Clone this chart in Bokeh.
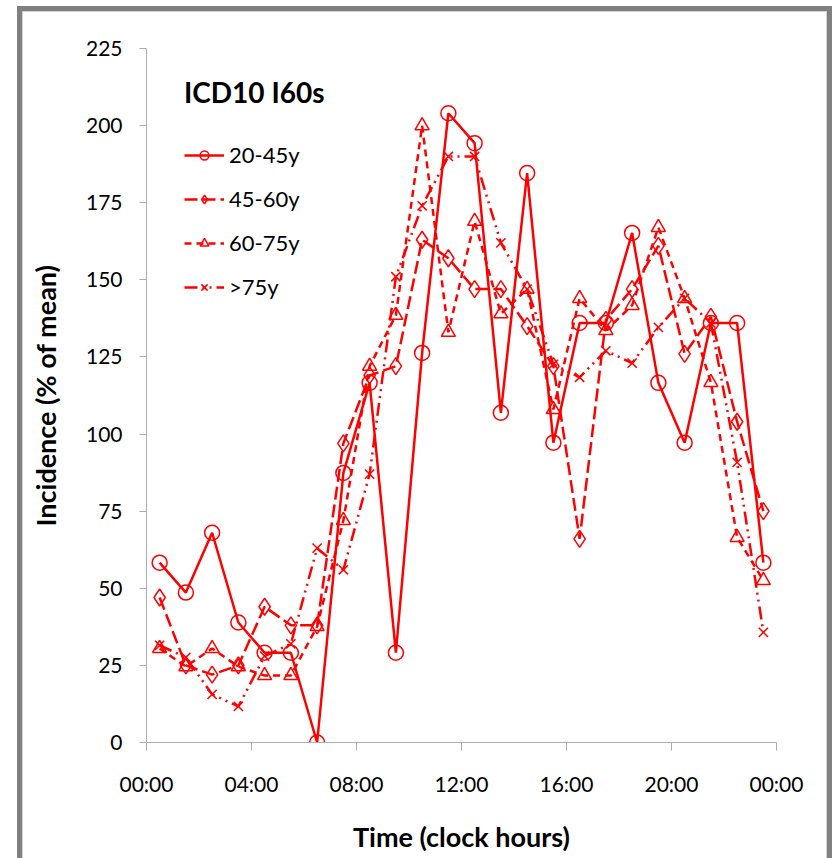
from bokeh.plotting import figure
from bokeh.models import FixedTicker, Legend, LegendItem
from bokeh.embed import file_html
from bokeh.resources import INLINE

# Hour-of-day midpoints (clock hours)
hours = [0.5, 1.5, 2.5, 3.5, 4.5, 5.5, 6.5, 7.5, 8.5, 9.5, 10.5, 11.5,
         12.5, 13.5, 14.5, 15.5, 16.5, 17.5, 18.5, 19.5, 20.5, 21.5, 22.5, 23.5]

# Incidence as % of the daily mean, per age group
age_20_45 = [58.3, 48.6, 68.0, 38.9, 29.1, 29.1, 0.0, 87.4, 116.6, 29.1, 126.3, 204.0,
             194.3, 106.9, 184.6, 97.2, 136.0, 136.0, 165.2, 116.6, 97.2, 136.0, 136.0, 58.3]
age_45_60 = [47.0, 25.0, 22.0, 25.0, 44.0, 38.0, 38.0, 97.0, 119.0, 122.0, 163.0, 157.0,
             147.0, 147.0, 135.0, 122.0, 66.0, 137.0, 147.0, 161.0, 126.0, 138.0, 104.0, 75.0]
age_60_75 = [30.5, 24.6, 30.5, 24.6, 21.7, 21.7, 37.6, 72.0, 122.0, 138.5, 200.0, 133.0,
             169.0, 139.0, 147.0, 108.0, 144.0, 133.6, 141.7, 167.0, 144.0, 116.7, 66.5, 52.5]
age_75_plus = [31.5, 27.6, 15.6, 11.7, 28.0, 32.0, 63.0, 56.0, 87.0, 151.0, 174.0, 190.0,
               190.0, 162.0, 147.0, 122.6, 118.4, 127.0, 123.0, 134.6, 144.0, 136.0, 90.8, 35.7]

series_names = ["20-45y", "45-60y", "60-75y", ">75y"]
x_ticks = [0, 4, 8, 12, 16, 20, 24]
x_tick_labels = ["00:00", "04:00", "08:00", "12:00", "16:00", "20:00", "00:00"]
y_ticks = [0, 25, 50, 75, 100, 125, 150, 175, 200, 225]

RED = "#FF0000"
FONT = "Lato"
AXIS_GREY = "#ADADAD"
FRAME_GREY = "#808080"
FRAME_EDGE = "#D4D4D4"

p = figure(width=832, height=858, x_range=(0, 24), y_range=(0, 225),
           output_backend="svg", toolbar_location=None,
           min_border_left=146, min_border_right=56, min_border_top=48, min_border_bottom=116)

# grey frame painted behind a transparent canvas border (inset shadows, top ones first)
p.styles = {
    "background-color": "white",
    "box-shadow": ", ".join([
        "inset 17px 0 0 0 white",
        "inset 0 6px 0 0 white",
        f"inset 22px 0 0 0 {FRAME_GREY}",
        f"inset 0 11px 0 0 {FRAME_GREY}",
        f"inset -5px 0 0 0 {FRAME_GREY}",
        f"inset 23px 0 0 0 {FRAME_EDGE}",
        f"inset 0 12px 0 0 {FRAME_EDGE}",
        f"inset -6px 0 0 0 {FRAME_EDGE}",
    ]),
}
p.border_fill_color = None
p.background_fill_color = "white"
p.outline_line_color = None
p.xgrid.visible = False
p.ygrid.visible = False

# axes
p.xaxis.ticker = FixedTicker(ticks=x_ticks)
p.xaxis.major_label_overrides = {t: lab for t, lab in zip(x_ticks, x_tick_labels)}
p.yaxis.ticker = FixedTicker(ticks=y_ticks)
for ax in (p.xaxis, p.yaxis):
    ax.axis_line_color = AXIS_GREY
    ax.major_tick_line_color = AXIS_GREY
    ax.minor_tick_line_color = None
    ax.major_tick_in = 0
    ax.major_label_text_font = FONT
    ax.major_label_text_font_size = "21px"
    ax.major_label_text_color = "black"
    ax.axis_label_text_font = FONT
    ax.axis_label_text_font_style = "bold"
    ax.axis_label_text_font_size = "27px"
    ax.axis_label_text_color = "black"
p.yaxis.major_tick_out = 7
p.xaxis.major_tick_out = 8
p.yaxis.major_label_standoff = 17
p.xaxis.major_label_standoff = 20
p.xaxis.axis_label = "Time (clock hours)"
p.yaxis.axis_label = "Incidence (% of mean)"
p.xaxis.axis_label_standoff = 21
p.yaxis.axis_label_standoff = 21

styles = [
    (age_20_45, "solid", "circle", 15),
    (age_45_60, "13 5", "diamond", 17),
    (age_60_75, "7 5", "triangle", 14),
    (age_75_plus, "13 5 2 5 2 5", "x", 13),
]

items = []
for name, (vals, dash, marker, size) in zip(series_names, styles):
    ln = p.line(hours, vals, line_color=RED, line_width=2.5, line_dash=dash)
    sc = p.scatter(hours, vals, marker=marker, size=size, line_color=RED,
                   line_width=1.5, fill_color=None)
    items.append(LegendItem(label=name, renderers=[ln, sc]))

legend = Legend(items=items, location=(38, 442), title="ICD10 I60s",
                title_text_font=FONT, title_text_font_style="bold",
                title_text_font_size="28px", title_text_color="black",
                title_standoff=32,
                label_text_font=FONT, label_text_font_size="22px", label_text_color="black",
                label_standoff=5, glyph_width=40, glyph_height=22, label_height=22,
                spacing=17, padding=0, margin=0,
                border_line_color=None, background_fill_alpha=0)
p.add_layout(legend)

open("out.html", "w").write(file_html(p, INLINE))
